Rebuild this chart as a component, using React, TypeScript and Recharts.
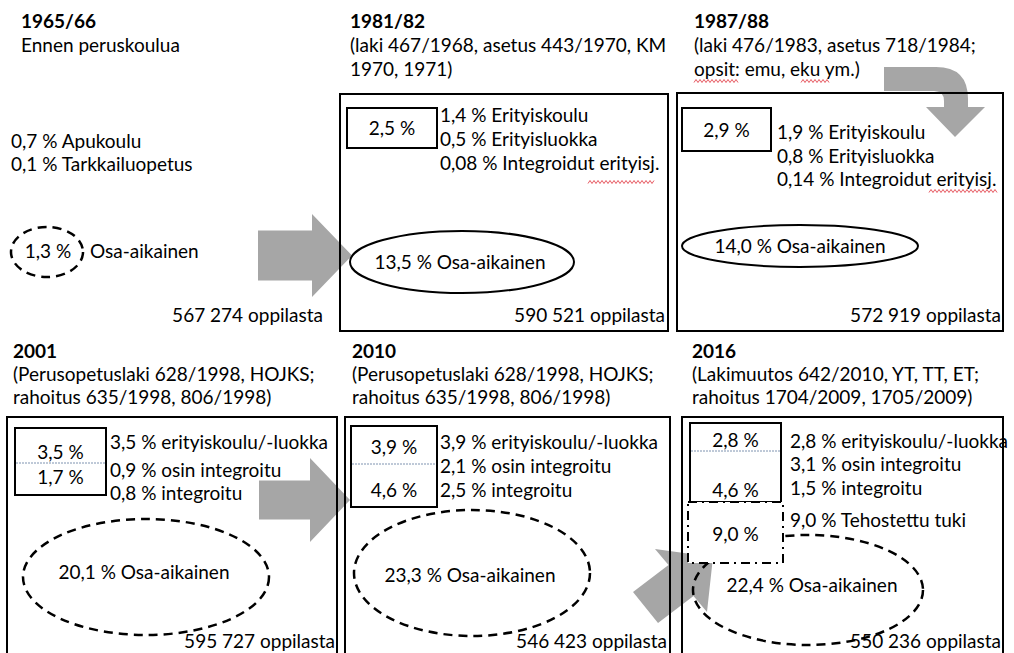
import React from "react";
import {
  ComposedChart,
  XAxis,
  YAxis,
  ReferenceArea,
  ReferenceDot,
  ReferenceLine,
} from "recharts";

const W = 1014;
const H = 653;
const FONT = "Lato, 'Open Sans', sans-serif";
const INK = "#000";
const GREY = "#a6a6a6";

// ---- content ----
const years = ["1965/66", "1981/82", "1987/88", "2001", "2010", "2016"];
const laws = [
  ["Ennen peruskoulua"],
  ["(laki 467/1968, asetus 443/1970, KM", "1970, 1971)"],
  ["(laki 476/1983, asetus 718/1984;", "opsit: emu, eku ym.)"],
  ["(Perusopetuslaki 628/1998, HOJKS;", "rahoitus 635/1998, 806/1998)"],
  ["(Perusopetuslaki 628/1998, HOJKS;", "rahoitus 635/1998, 806/1998)"],
  ["(Lakimuutos 642/2010, YT, TT, ET;", "rahoitus 1704/2009, 1705/2009)"],
];
const details = [
  ["0,7 % Apukoulu", "0,1 % Tarkkailuopetus"],
  ["1,4 % Erityiskoulu", "0,5 % Erityisluokka", "0,08 % Integroidut erityisj."],
  ["1,9 % Erityiskoulu", "0,8 % Erityisluokka", "0,14 % Integroidut erityisj."],
  ["3,5 % erityiskoulu/-luokka", "0,9 % osin integroitu", "0,8 % integroitu"],
  ["3,9 % erityiskoulu/-luokka", "2,1 % osin integroitu", "2,5 % integroitu"],
  ["2,8 % erityiskoulu/-luokka", "3,1 % osin integroitu", "1,5 % integroitu", "9,0 % Tehostettu tuki"],
];
const boxShares = [[], ["2,5 %"], ["2,9 %"], ["3,5 %", "1,7 %"], ["3,9 %", "4,6 %"], ["2,8 %", "4,6 %"]];
const partTime = ["1,3 %", "13,5 %", "14,0 %", "20,1 %", "23,3 %", "22,4 %"];
const pupils = ["567 274", "590 521", "572 919", "595 727", "546 423", "550 236"];
const enhancedSupport = "9,0 %";

// ---- layout (pixels) ----
type Box = [number, number, number, number];
interface Layout {
  headX: number;
  headY: number;
  gap: number;
  frame?: Box;
  detailX: number;
  detailY: number[];
  box?: Box;
  split?: number;
  boxTextY: number[];
  oval: Box; // cx, cy, rx, ry
  dashed: boolean;
  ovalTextX: number;
  ovalTextY: number;
  pupilsX: number;
  pupilsY: number;
}

const layout: Layout[] = [
  { headX: 21, headY: 28, gap: 24, detailX: 11, detailY: [148, 171], boxTextY: [], oval: [47, 252, 36, 25], dashed: true, ovalTextX: 48, ovalTextY: 258, pupilsX: 323, pupilsY: 322 },
  { headX: 350, headY: 28, gap: 24, frame: [340, 94, 668, 331], detailX: 440, detailY: [122, 146, 170], box: [347, 108, 437, 148], boxTextY: [135], oval: [462, 262, 112, 31], dashed: false, ovalTextX: 460, ovalTextY: 269, pupilsX: 665, pupilsY: 322 },
  { headX: 694, headY: 28, gap: 24, frame: [677, 93, 1003, 331], detailX: 777, detailY: [139, 163, 186], box: [682, 108, 771, 151], boxTextY: [137], oval: [800, 246, 118, 21], dashed: false, ovalTextX: 800, ovalTextY: 253, pupilsX: 1001, pupilsY: 322 },
  { headX: 13, headY: 358, gap: 23, frame: [7, 417, 337, 670], detailX: 110, detailY: [449, 477, 500], box: [15, 428, 106, 495], split: 463, boxTextY: [459, 484], oval: [146, 577, 123, 58], dashed: true, ovalTextX: 144, ovalTextY: 579, pupilsX: 335, pupilsY: 648 },
  { headX: 352, headY: 358, gap: 23, frame: [345, 417, 670, 670], detailX: 440, detailY: [449, 473, 497], box: [351, 426, 437, 507], split: 464, boxTextY: [454, 497], oval: [472, 573, 118, 63], dashed: true, ovalTextX: 470, ovalTextY: 582, pupilsX: 667, pupilsY: 648 },
  { headX: 692, headY: 358, gap: 23, frame: [682, 417, 1003, 670], detailX: 790, detailY: [448, 471, 495, 527], box: [690, 423, 781, 502], split: 451, boxTextY: [447, 497], oval: [808, 590, 115, 55], dashed: true, ovalTextX: 812, ovalTextY: 592, pupilsX: 1001, pupilsY: 648 },
];
const tukiBox: Box = [688, 502, 783, 563];
const squiggles: [number, number, number][] = [
  [588, 654, 182],
  [929, 997, 191],
  [694, 738, 81],
  [801, 829, 81],
];

function label(key: string, x: number, y: number, text: string, anchor = "start", bold = false) {
  return (
    <ReferenceDot
      key={key}
      x={x}
      y={y}
      ifOverflow="visible"
      shape={(p: any) => (
        <text
          x={p.cx}
          y={p.cy}
          fontFamily={FONT}
          fontSize={19}
          fontWeight={bold ? 700 : 400}
          fill={INK}
          textAnchor={anchor as any}
        >
          {text}
        </text>
      )}
    />
  );
}

function rect(key: string, b: Box, extra: any = {}) {
  return (
    <ReferenceArea
      key={key}
      x1={b[0]}
      x2={b[2]}
      y1={b[1]}
      y2={b[3]}
      ifOverflow="visible"
      fill="none"
      fillOpacity={1}
      stroke="#000"
      strokeWidth={2}
      {...extra}
    />
  );
}

function oval(key: string, o: Box, dashed: boolean) {
  return (
    <ReferenceArea
      key={key}
      x1={o[0] - o[2]}
      x2={o[0] + o[2]}
      y1={o[1] - o[3]}
      y2={o[1] + o[3]}
      ifOverflow="visible"
      shape={(p: any) => (
        <ellipse
          cx={p.x + p.width / 2}
          cy={p.y + Math.abs(p.height) / 2}
          rx={p.width / 2}
          ry={Math.abs(p.height) / 2}
          fill="none"
          stroke="#000"
          strokeWidth={dashed ? 2.5 : 2}
          strokeDasharray={dashed ? "9 6" : undefined}
        />
      )}
    />
  );
}

// straight block arrow pointing right inside its box
function rightArrow(key: string, b: Box, headLen: number, shaft: number) {
  return (
    <ReferenceArea
      key={key}
      x1={b[0]}
      x2={b[2]}
      y1={b[1]}
      y2={b[3]}
      ifOverflow="visible"
      shape={(p: any) => {
        const { x, y, width: w } = p;
        const h = Math.abs(p.height);
        const cy = y + h / 2;
        const hx = x + w - headLen;
        const pts = [
          [x, cy - shaft / 2],
          [hx, cy - shaft / 2],
          [hx, y],
          [x + w, cy],
          [hx, y + h],
          [hx, cy + shaft / 2],
          [x, cy + shaft / 2],
        ];
        return <polygon points={pts.map((q) => q.join(",")).join(" ")} fill={GREY} />;
      }}
    />
  );
}

function App() {
  const items: React.ReactNode[] = [];

  // arrows first, frames are drawn over them
  items.push(rightArrow("a1", [258, 214, 352, 297], 40, 50));
  items.push(rightArrow("a2", [259, 458, 350, 542], 40, 39));
  items.push(
    <ReferenceArea
      key="a3"
      x1={633}
      x2={713}
      y1={549}
      y2={623}
      ifOverflow="visible"
      shape={(p: any) => {
        const pts = [
          [0, 43],
          [35.5, 16],
          [22, 0],
          [80, 8],
          [74, 63],
          [60.5, 47],
          [25, 74],
        ];
        return (
          <polygon
            points={pts.map((q) => `${p.x + q[0]},${p.y + q[1]}`).join(" ")}
            fill={GREY}
          />
        );
      }}
    />
  );
  // bent arrow over the 1987/88 frame
  items.push(
    <ReferenceArea
      key="a4"
      x1={884}
      x2={986}
      y1={67}
      y2={137}
      ifOverflow="visible"
      shape={(p: any) => {
        const X = (v: number) => p.x + v;
        const Y = (v: number) => p.y + v;
        const d = `M${X(0)},${Y(0)} L${X(52)},${Y(0)} Q${X(84)},${Y(0)} ${X(84)},${Y(32)} L${X(84)},${Y(40)} L${X(101)},${Y(40)} L${X(71)},${Y(70)} L${X(42)},${Y(40)} L${X(60)},${Y(40)} L${X(60)},${Y(34)} Q${X(60)},${Y(24)} ${X(50)},${Y(24)} L${X(0)},${Y(24)} Z`;
        return <path d={d} fill={GREY} />;
      }}
    />
  );

  layout.forEach((L, i) => {
    items.push(label(`y${i}`, L.headX, L.headY, years[i], "start", true));
    laws[i].forEach((t, j) => items.push(label(`l${i}${j}`, L.headX, L.headY + L.gap * (j + 1), t)));
    details[i].forEach((t, j) => items.push(label(`d${i}${j}`, L.detailX, L.detailY[j], t)));

    items.push(oval(`o${i}`, L.oval, L.dashed));
    if (i === 0) {
      items.push(label(`ot${i}`, L.ovalTextX, L.ovalTextY, partTime[i], "middle"));
      items.push(label(`ot${i}b`, L.oval[0] + L.oval[2] + 7, L.ovalTextY, "Osa-aikainen"));
    } else {
      items.push(label(`ot${i}`, L.ovalTextX, L.ovalTextY, `${partTime[i]} Osa-aikainen`, "middle"));
    }

    if (L.box) {
      const cx = (L.box[0] + L.box[2]) / 2;
      items.push(rect(`b${i}`, L.box));
      boxShares[i].forEach((t, j) => items.push(label(`bt${i}${j}`, cx, L.boxTextY[j], t, "middle")));
      if (L.split) {
        items.push(
          <ReferenceLine
            key={`s${i}`}
            segment={[
              { x: L.box[0] + 1, y: L.split },
              { x: L.box[2] - 1, y: L.split },
            ]}
            ifOverflow="visible"
            stroke="#7f93b0"
            strokeWidth={1}
            strokeDasharray="2 1"
          />
        );
      }
    }
    items.push(label(`p${i}`, L.pupilsX, L.pupilsY, `${pupils[i]} oppilasta`, "end"));
  });

  // tehostettu tuki box (2016)
  items.push(rect("tuki", tukiBox, { fill: "#fff", strokeDasharray: "9 5 2 5" }));
  items.push(label("tukiT", (tukiBox[0] + tukiBox[2]) / 2, 541, enhancedSupport, "middle"));
  items.push(rect("tukiTop", [tukiBox[0] + 2, tukiBox[1], tukiBox[2] - 2, tukiBox[1]]));

  // outer frames on top
  layout.forEach((L, i) => {
    if (L.frame) items.push(rect(`f${i}`, L.frame));
  });

  // spell-check squiggles
  squiggles.forEach((s, i) =>
    items.push(
      <ReferenceArea
        key={`q${i}`}
        x1={s[0]}
        x2={s[1]}
        y1={s[2] - 1.5}
        y2={s[2] + 1.5}
        ifOverflow="visible"
        shape={(p: any) => {
          let d = `M${p.x},${p.y + 3}`;
          for (let k = 2; k <= p.width; k += 2) d += ` L${p.x + k},${p.y + (k % 4 === 0 ? 3 : 0)}`;
          return <path d={d} fill="none" stroke="#e0303a" strokeWidth={0.8} />;
        }}
      />
    )
  );

  return (
    <div style={{ position: "absolute", left: 0, top: 0, width: W, height: H, background: "#fff" }}>
      <ComposedChart width={W} height={H} data={[]} margin={{ top: 0, right: 0, bottom: 0, left: 0 }}>
        <XAxis type="number" dataKey="x" domain={[0, W]} hide allowDataOverflow />
        <YAxis type="number" dataKey="y" domain={[0, H]} reversed hide allowDataOverflow />
        {items}
      </ComposedChart>
    </div>
  );
}

export default App;
